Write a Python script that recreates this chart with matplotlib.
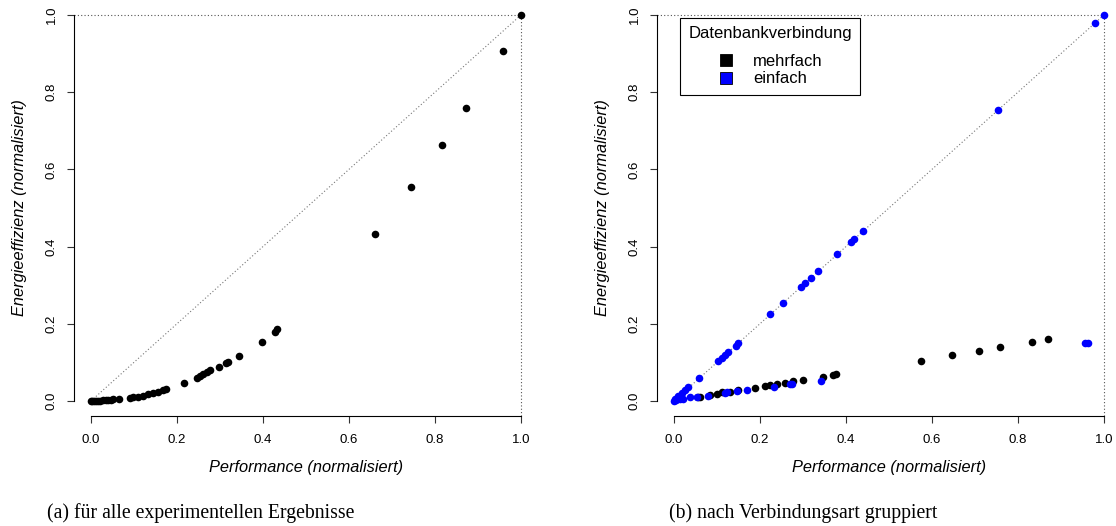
import matplotlib
matplotlib.use("Agg")
import matplotlib.pyplot as plt
from matplotlib.lines import Line2D

# (a) all experimental results
perf_all = [0.0, 0.003, 0.008, 0.012, 0.017, 0.022, 0.029, 0.034, 0.040, 0.046, 0.052, 0.066,
            0.091, 0.098, 0.110, 0.122, 0.133, 0.145, 0.157, 0.167, 0.174,
            0.217, 0.246, 0.253, 0.261, 0.269, 0.277, 0.297, 0.313, 0.318, 0.345,
            0.398, 0.428, 0.432, 0.660, 0.744, 0.816, 0.872, 0.958, 1.0]
energy_all = [0.0, 0.0, 0.0, 0.001, 0.001, 0.001, 0.002, 0.002, 0.003, 0.003, 0.004, 0.006,
              0.008, 0.009, 0.011, 0.014, 0.017, 0.021, 0.024, 0.028, 0.031,
              0.047, 0.060, 0.065, 0.070, 0.074, 0.079, 0.088, 0.098, 0.101, 0.117,
              0.154, 0.179, 0.186, 0.433, 0.554, 0.663, 0.759, 0.907, 1.0]

# (b) grouped by connection type
perf_mehrfach = [0.057, 0.060, 0.084, 0.099, 0.111, 0.130, 0.150, 0.188, 0.212, 0.223, 0.239,
                 0.258, 0.277, 0.299, 0.346, 0.369, 0.377, 0.575, 0.647, 0.710, 0.759, 0.833, 0.869]
energy_mehrfach = [0.010, 0.010, 0.015, 0.018, 0.022, 0.024, 0.028, 0.034, 0.039, 0.041, 0.044,
                   0.047, 0.052, 0.054, 0.063, 0.068, 0.070, 0.104, 0.119, 0.130, 0.140, 0.153, 0.161]

perf_einfach = [0.0, 0.002, 0.010, 0.018, 0.026, 0.033, 0.059, 0.103, 0.111, 0.119, 0.126, 0.144,
                0.150, 0.224, 0.253, 0.295, 0.304, 0.318, 0.336, 0.379, 0.411, 0.419, 0.440,
                0.754, 0.979, 1.0,
                0.005, 0.015, 0.022, 0.037, 0.053, 0.080, 0.119, 0.123, 0.147, 0.170, 0.233,
                0.271, 0.274, 0.341, 0.955, 0.962]
energy_einfach = [0.0, 0.004, 0.013, 0.020, 0.028, 0.037, 0.060, 0.104, 0.111, 0.119, 0.128, 0.143,
                  0.151, 0.225, 0.255, 0.295, 0.306, 0.319, 0.337, 0.382, 0.412, 0.420, 0.440,
                  0.754, 0.980, 1.0,
                  0.002, 0.004, 0.005, 0.009, 0.010, 0.013, 0.020, 0.022, 0.026, 0.028, 0.037,
                  0.043, 0.044, 0.052, 0.150, 0.151]

ticks = [0.0, 0.2, 0.4, 0.6, 0.8, 1.0]
tick_labels = ["0.0", "0.2", "0.4", "0.6", "0.8", "1.0"]

plt.rcParams['font.family'] = ['Liberation Sans', 'DejaVu Sans']

fig = plt.figure(figsize=(11.16, 5.26), dpi=100)
ax1 = fig.add_axes([0.0661, 0.2084, 0.4161, 0.7924])
ax2 = fig.add_axes([0.5885, 0.2084, 0.4161, 0.7924])


def style_axis(ax):
    ax.set_xlim(-0.04, 1.04)
    ax.set_ylim(-0.04, 1.04)
    for s in ["top", "right"]:
        ax.spines[s].set_visible(False)
    ax.spines["left"].set_bounds(0, 1)
    ax.spines["bottom"].set_bounds(0, 1)
    ax.spines["left"].set_linewidth(0.8)
    ax.spines["bottom"].set_linewidth(0.8)
    ax.set_xticks(ticks, tick_labels)
    ax.set_yticks(ticks, tick_labels)
    ax.tick_params(direction="out", length=5, width=0.8, labelsize=9.5, color="#333333")
    ax.tick_params(axis="x", pad=7.5)
    ax.tick_params(axis="y", pad=6.5)
    plt.setp(ax.get_yticklabels(), rotation=90, va="center")
    # reference lines
    ax.plot([0, 1], [0, 1], color="#777777", ls=(0, (1, 2)), lw=0.8, zorder=1)
    ax.plot([-0.04, 1], [1, 1], color="#555555", ls=(0, (1, 2)), lw=0.8, zorder=1)
    ax.plot([1, 1], [-0.04, 1], color="#555555", ls=(0, (1, 2)), lw=0.8, zorder=1)
    ax.set_xlabel("Performance (normalisiert)", fontsize=11.8, style="italic")
    ax.set_ylabel("Energieeffizienz (normalisiert)", fontsize=11.8, style="italic")
    ax.xaxis.set_label_coords(0.5, -0.105)
    ax.yaxis.set_label_coords(-0.10, 0.5)


style_axis(ax1)
ax1.scatter(perf_all, energy_all, s=30, c="black", linewidths=0, zorder=3)

style_axis(ax2)
ax2.scatter(perf_mehrfach, energy_mehrfach, s=30, c="black", linewidths=0, zorder=3)
ax2.scatter(perf_einfach, energy_einfach, s=30, c="#0000ff", linewidths=0, zorder=4)

handles = [Line2D([], [], ls="none", marker="s", markersize=8, markerfacecolor="black",
                  markeredgecolor="black", markeredgewidth=0.6),
           Line2D([], [], ls="none", marker="s", markersize=8, markerfacecolor="#0000ff",
                  markeredgecolor="black", markeredgewidth=0.6)]
leg = ax2.legend(handles, ["mehrfach", "einfach"], title="Datenbankverbindung",
                 loc="upper left", bbox_to_anchor=(0.050, 0.956), borderaxespad=0,
                 fontsize=12, title_fontsize=12, fancybox=False, framealpha=1,
                 edgecolor="black", handletextpad=1.1, labelspacing=0.16,
                 borderpad=0.5, handlelength=1.0)
leg.get_frame().set_linewidth(0.8)
# extra gap between title and entries, as in the original
leg._legend_box.sep = 9

fig.text(0.18, 0.025, "(a) für alle experimentellen Ergebnisse", ha="center", va="center",
         fontsize=14.2, family="Liberation Serif")
fig.text(0.72, 0.025, "(b) nach Verbindungsart gruppiert", ha="center", va="center",
         fontsize=14.2, family="Liberation Serif")

fig.savefig("out.png", dpi=100)
